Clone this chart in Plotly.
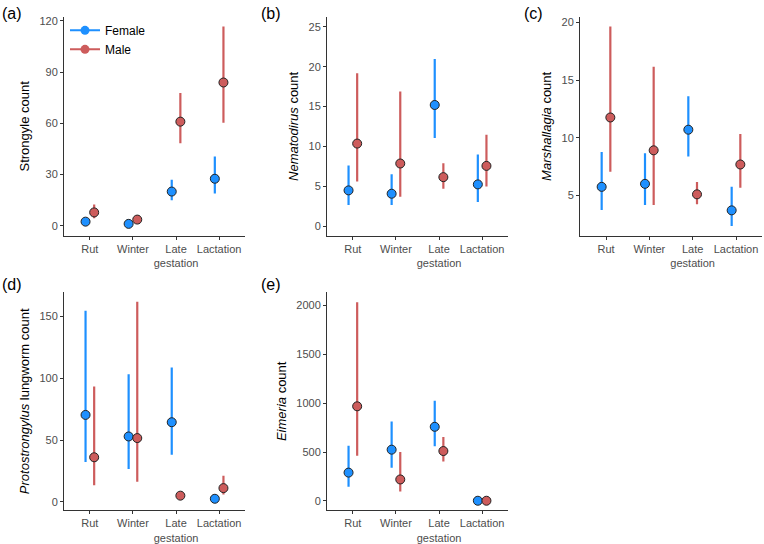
import plotly.graph_objects as go

seasons = ["Rut", "Winter", "Late<br>gestation", "Lactation"]
sexes = ["Female", "Male"]
colors = {"Female": "#1E90FF", "Male": "#CD5C5C"}

# panel (a) Strongyle
a_f = [2.5, 1.2, 20.1, 27.6]
a_f_hi = [3.5, 2.0, 27.0, 40.6]
a_f_lo = [1.8, 0.7, 15.0, 19.0]
a_m = [7.9, 3.7, 61.0, 83.9]
a_m_hi = [12.6, 5.2, 77.7, 116.7]
a_m_lo = [4.5, 2.5, 48.3, 60.3]

# panel (b) Nematodirus
b_f = [4.49, 4.07, 15.2, 5.24]
b_f_hi = [7.6, 6.5, 20.96, 8.98]
b_f_lo = [2.66, 2.66, 11.06, 3.03]
b_m = [10.36, 7.86, 6.15, 7.56]
b_m_hi = [19.17, 16.88, 7.9, 11.48]
b_m_lo = [5.6, 3.7, 4.69, 4.99]

# panel (c) Marshallagia
c_f = [5.74, 6.0, 10.7, 3.70]
c_f_hi = [8.77, 8.65, 13.6, 5.74]
c_f_lo = [3.73, 4.16, 8.37, 2.35]
c_m = [11.76, 8.91, 5.09, 7.68]
c_m_hi = [19.65, 16.17, 6.15, 10.32]
c_m_lo = [7.04, 4.16, 4.22, 5.66]

# panel (d) Protostrongylus
d_f = [70.3, 52.9, 64.4, 2.6]
d_f_hi = [154.5, 103.2, 108.5, 3.2]
d_f_lo = [32.3, 26.7, 38.2, 2.0]
d_m = [36.1, 51.6, 5.1, 11.2]
d_m_hi = [93.3, 161.7, 5.8, 21.1]
d_m_lo = [13.6, 16.3, 4.4, 6.1]

# panel (e) Eimeria
e_f = [290, 525, 759, 2]
e_f_hi = [565, 813, 1027, 4]
e_f_lo = [145, 339, 559, 1]
e_m = [969, 220, 511, 2]
e_m_hi = [2034, 501, 654, 4]
e_m_lo = [464, 98, 403, 1]

panels = [
    dict(label="(a)", title="Strongyle count", f=(a_f, a_f_lo, a_f_hi), m=(a_m, a_m_lo, a_m_hi),
         yr=[-5.8, 122.3], tv=[0, 30, 60, 90, 120],
         px=(64, 245), py=(15, 236), lab=(0, 12)),
    dict(label="(b)", title="<i>Nematodirus</i> count", f=(b_f, b_f_lo, b_f_hi), m=(b_m, b_m_lo, b_m_hi),
         yr=[-1.21, 26.25], tv=[0, 5, 10, 15, 20, 25],
         px=(327, 508), py=(15, 236), lab=(259, 12)),
    dict(label="(c)", title="<i>Marshallagia</i> count", f=(c_f, c_f_lo, c_f_hi), m=(c_m, c_m_lo, c_m_hi),
         yr=[1.49, 20.49], tv=[5, 10, 15, 20],
         px=(580, 762), py=(15, 236), lab=(522, 12)),
    dict(label="(d)", title="<i>Protostrongylus</i> lungworm count", f=(d_f, d_f_lo, d_f_hi), m=(d_m, d_m_lo, d_m_hi),
         yr=[-6.7, 169.3], tv=[0, 50, 100, 150],
         px=(64, 245), py=(293, 513), lab=(0, 285)),
    dict(label="(e)", title="<i>Eimeria</i> count", f=(e_f, e_f_lo, e_f_hi), m=(e_m, e_m_lo, e_m_hi),
         yr=[-95.6, 2136], tv=[0, 500, 1000, 1500, 2000],
         px=(327, 508), py=(293, 513), lab=(259, 285)),
]

W, H = 764, 544
FONT = "Liberation Sans, Arial"
fig = go.Figure()
offsets = {"Female": -0.1, "Male": 0.1}
xpos = [1, 2, 3, 4]

layout = dict()
annotations = []
for i, p in enumerate(panels):
    n = "" if i == 0 else str(i + 1)
    xa, ya = "x" + n, "y" + n
    for sex, key in (("Female", "f"), ("Male", "m")):
        vals, lo, hi = p[key]
        xs = [x + offsets[sex] for x in xpos]
        fig.add_trace(go.Scatter(
            x=xs, y=vals, mode="markers", xaxis=xa, yaxis=ya, showlegend=False,
            marker=dict(size=9, color=colors[sex], line=dict(color="#222222", width=1)),
            error_y=dict(type="data", symmetric=False,
                         array=[h - v for h, v in zip(hi, vals)],
                         arrayminus=[v - l for v, l in zip(vals, lo)],
                         width=0, thickness=2.2, color=colors[sex]),
            name=sex))
    axkw = dict(showline=True, linecolor="#333333", linewidth=1, ticks="outside", ticklen=3,
                tickcolor="#333333", showgrid=False, zeroline=False,
                tickfont=dict(family=FONT, size=11, color="#4D4D4D"))
    layout["xaxis" + n] = dict(axkw, domain=[p["px"][0] / W, p["px"][1] / W], range=[0.4, 4.6],
                               tickvals=xpos, ticktext=seasons, anchor=ya, tickangle=0)
    layout["yaxis" + n] = dict(axkw, domain=[1 - p["py"][1] / H, 1 - p["py"][0] / H], range=p["yr"],
                               tickvals=p["tv"], anchor=xa,
                               title=dict(text=p["title"], standoff=6,
                                          font=dict(family=FONT, size=13, color="black")))
    annotations.append(dict(text=p["label"], x=p["lab"][0] / W, y=1 - p["lab"][1] / H, xref="paper", yref="paper",
                            xanchor="left", yanchor="middle", showarrow=False,
                            font=dict(family=FONT, size=16, color="black")))

for sex in sexes:
    fig.add_trace(go.Scatter(x=[None], y=[None], mode="lines+markers", name=sex,
                             line=dict(color=colors[sex], width=2),
                             marker=dict(size=9, color=colors[sex]), xaxis="x", yaxis="y"))

fig.update_layout(**layout)
fig.update_layout(
    width=W, height=H, margin=dict(l=0, r=0, t=0, b=0),
    plot_bgcolor="white", paper_bgcolor="white",
    annotations=annotations,
    showlegend=True,
    legend=dict(x=65 / W, y=1 - 14 / H, xanchor="left", yanchor="top", bgcolor="rgba(0,0,0,0)",
                font=dict(family=FONT, size=12, color="black"),
                itemwidth=30, tracegroupgap=6),
    font=dict(family=FONT),
)

fig.write_html("out.html", config={"displayModeBar": False},
               post_script="document.body.style.margin='0';document.body.style.overflow='hidden';")
